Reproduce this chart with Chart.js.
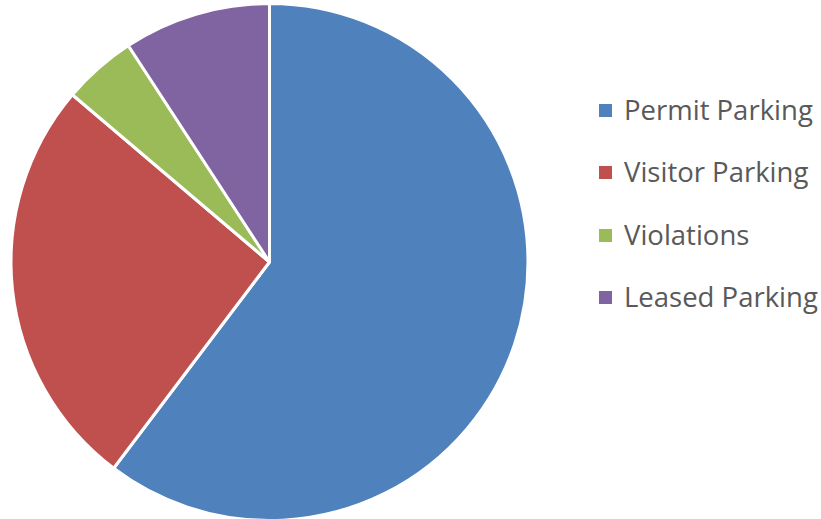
<!DOCTYPE html>
<html>
<head>
<meta charset="utf-8">
<script src="https://cdn.jsdelivr.net/npm/chart.js@4"></script>
<style>
  body { margin: 0; background: #fff; overflow: hidden; }
  #wrap { position: absolute; left: 0; top: 0; width: 539px; height: 524px; }
  #legend { position: absolute; left: 599px; top: 0; font-family: "Open Sans", "Liberation Sans", sans-serif; font-size: 27.5px; color: #595959; }
  .item { position: absolute; left: 0; white-space: nowrap; height: 30px; line-height: 30px; }
  .box { position: absolute; left: 0; top: 9px; width: 13px; height: 13px; }
  .label { position: absolute; left: 25px; top: 0; }
</style>
</head>
<body>
<div id="wrap"><canvas id="myChart"></canvas></div>
<div id="legend"></div>
<script>
// slice shares (percent)
const categories = ["Permit Parking", "Visitor Parking", "Violations", "Leased Parking"];
const values = [60.3, 25.9, 4.6, 9.2];
const colors = ["#4F81BD", "#C0504D", "#9BBB59", "#8064A2"];

const ctx = document.getElementById("myChart");

new Chart(ctx, {
  type: "pie",
  data: {
    labels: categories,
    datasets: [
      {
        data: values,
        backgroundColor: colors,
        borderColor: "#ffffff",
        borderWidth: 3,
        hoverOffset: 0,
      },
    ],
  },
  options: {
    responsive: true,
    maintainAspectRatio: false,
    animation: false,
    layout: { padding: 2 },
    plugins: {
      legend: { display: false },
      tooltip: { enabled: false },
    },
  },
});

// legend on the right
const legend = document.getElementById("legend");
const rowY = [110, 172, 235, 297];
categories.forEach((name, i) => {
  const item = document.createElement("div");
  item.className = "item";
  item.style.top = (rowY[i] - 15) + "px";
  item.innerHTML = '<span class="box" style="background:' + colors[i] + '"></span><span class="label">' + name + "</span>";
  legend.appendChild(item);
});
</script>
</body>
</html>
